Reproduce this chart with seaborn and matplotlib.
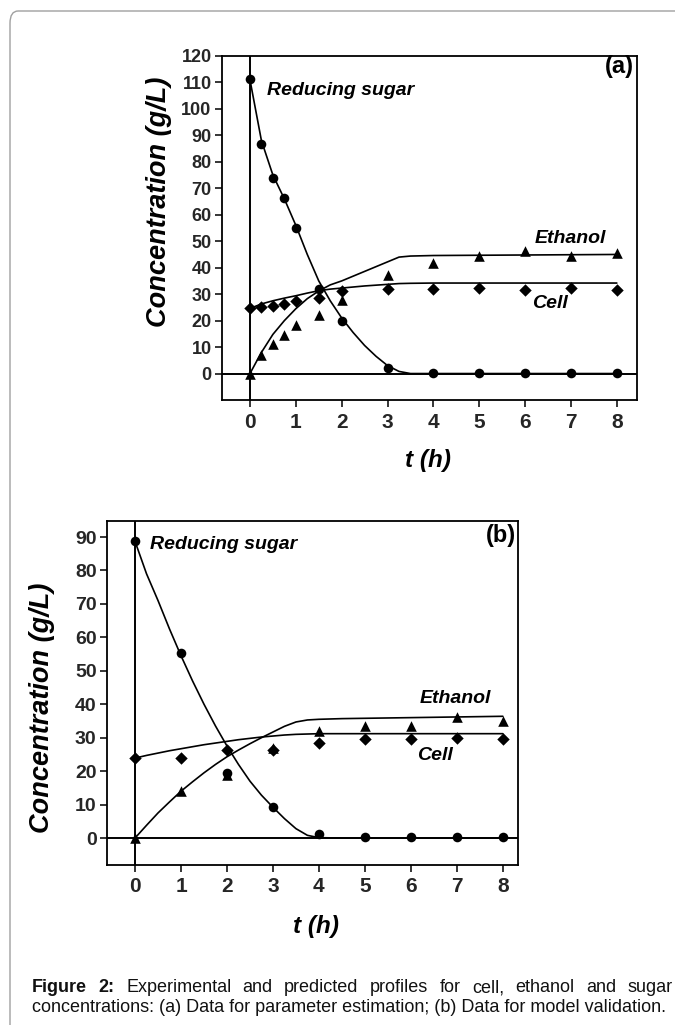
import matplotlib
matplotlib.use("Agg")
import matplotlib.pyplot as plt
from matplotlib.patches import FancyBboxPatch
import seaborn as sns

# ---------------- data (a) ----------------
t_a = [0, 0.25, 0.5, 0.75, 1.0, 1.5, 2.0, 3, 4, 5, 6, 7, 8]
sugar_a = [111.2, 86.6, 73.9, 66.5, 55.1, 31.9, 19.7, 2.0, 0.3, 0.1, 0.1, 0.1, 0.1]
ethanol_a = [0, 6.9, 11.2, 14.5, 18.2, 22.2, 27.9, 37.2, 41.7, 44.3, 46.3, 44.4, 45.6]
cell_a = [24.6, 25.0, 25.5, 26.4, 27.6, 28.4, 31.1, 31.8, 31.8, 32.4, 31.7, 32.2, 31.4]

tm_a = [0, 0.25, 0.5, 0.75, 1, 1.25, 1.5, 1.75, 2, 2.25, 2.5, 2.75, 3, 3.25, 3.5, 4, 5, 6, 7, 8]
sugar_model_a = [111, 88, 75, 66, 56, 45, 35, 27.5, 21, 15.5, 10.6, 6.5, 3, 0.8, 0, 0, 0, 0, 0, 0]
ethanol_model_a = [0, 8, 14.8, 20, 24.5, 28.3, 31.2, 33.5, 35, 36.8, 38.6, 40.4, 42.2, 44, 44.4, 44.6, 44.7, 44.8, 44.9, 45]
cell_model_a = [24.6, 26.3, 27.5, 28.5, 29.4, 30.4, 31.3, 31.9, 32.3, 32.7, 33.1, 33.4, 33.7, 34, 34.1, 34.2, 34.2, 34.2, 34.2, 34.2]

# ---------------- data (b) ----------------
t_b = [0, 1, 2, 3, 4, 5, 6, 7, 8]
sugar_b = [88.7, 55.4, 19.4, 9.2, 1.1, 0.2, 0.2, 0.2, 0.2]
ethanol_b = [0, 14, 18.7, 27.0, 31.9, 33.5, 33.5, 36.2, 34.9]
cell_b = [23.9, 23.9, 26.2, 26.2, 28.5, 29.6, 29.6, 29.8, 29.6]

tm_b = [0, 0.25, 0.5, 0.75, 1, 1.25, 1.5, 1.75, 2, 2.25, 2.5, 2.75, 3, 3.25, 3.5, 3.75, 4, 4.5, 5, 6, 7, 8]
sugar_model_b = [88.7, 79, 71, 62.5, 54.5, 47, 40, 33.5, 27.5, 22, 17, 12.8, 9.2, 5.8, 2.8, 0.8, 0.1, 0, 0, 0, 0, 0]
ethanol_model_b = [0, 3.8, 7.5, 10.8, 14, 16.8, 19.5, 22, 24.3, 26.3, 28.2, 30, 31.7, 33.4, 34.7, 35.3, 35.5, 35.7, 35.8, 36, 36.2, 36.4]
cell_model_b = [23.9, 24.7, 25.4, 26.1, 26.7, 27.3, 27.9, 28.4, 28.9, 29.4, 29.8, 30.2, 30.5, 30.8, 31.0, 31.1, 31.2, 31.2, 31.2, 31.2, 31.2, 31.2]

x_ticks = [0, 1, 2, 3, 4, 5, 6, 7, 8]
y_ticks_a = [0, 10, 20, 30, 40, 50, 60, 70, 80, 90, 100, 110, 120]
y_ticks_b = [0, 10, 20, 30, 40, 50, 60, 70, 80, 90]

caption_line1 = ['Figure', '2:', 'Experimental', 'and', 'predicted', 'profiles', 'for', 'cell,',
                 'ethanol', 'and', 'sugar']
caption_line2 = 'concentrations: (a) Data for parameter estimation; (b) Data for model validation.'

sns.set_theme(style="white")
plt.rcParams['font.family'] = ['Liberation Sans', 'DejaVu Sans']
plt.rcParams['xtick.direction'] = 'out'
plt.rcParams['ytick.direction'] = 'out'

W, H = 675, 1025
fig = plt.figure(figsize=(W / 100, H / 100), dpi=100)
fig.patch.set_facecolor('white')

# outer rounded frame (continues past right and bottom edges)
frame = FancyBboxPatch((10 / W, -0.1), 1.2, 1.1 - 11 / H, boxstyle="round,pad=0,rounding_size=0.012",
                       transform=fig.transFigure, fill=False, edgecolor='#a0a0a0', linewidth=1.0,
                       clip_on=False)
fig.patches.append(frame)


def px_axes(left, top, right, bottom):
    return fig.add_axes([left / W, 1 - bottom / H, (right - left) / W, (bottom - top) / H])


def draw_panel(ax, t, sug, eth, cel, tm, sm, em, cm, xlim, ylim, yticks, ytick_fs):
    kw = dict(color='black', linewidth=1.2, estimator=None, ax=ax, legend=False)
    sns.lineplot(x=tm, y=sm, **kw)
    sns.lineplot(x=tm, y=em, **kw)
    sns.lineplot(x=tm, y=cm, **kw)
    ax.axhline(0, color='black', linewidth=1.4, zorder=1)
    ax.axvline(0, color='black', linewidth=1.4, zorder=1)
    skw = dict(color='black', edgecolor='black', linewidth=0, ax=ax, legend=False, zorder=5)
    sns.scatterplot(x=t, y=eth, marker='^', s=58, **skw)
    sns.scatterplot(x=t, y=cel, marker='D', s=40, **skw)
    sns.scatterplot(x=t, y=sug, marker='o', s=48, **skw)
    ax.set_xlim(*xlim)
    ax.set_ylim(*ylim)
    ax.set_xticks(x_ticks)
    ax.set_yticks(yticks)
    ax.set_xticklabels([str(v) for v in x_ticks], fontsize=15, fontweight='bold')
    ax.set_yticklabels([str(v) for v in yticks], fontsize=ytick_fs, fontweight='bold')
    ax.tick_params(axis='both', which='both', length=5, width=1.1, color='black',
                   bottom=True, left=True, pad=2.5)
    ax.tick_params(axis='x', pad=4)
    for s in ax.spines.values():
        s.set_color('black')
        s.set_linewidth(1.3)
    ax.set_xlabel('')
    ax.set_ylabel('')


lab = dict(fontsize=14, fontweight='bold', fontstyle='italic', color='black')
tag = dict(fontsize=17, fontweight='bold', color='black')

# panel (a)
ax1 = px_axes(222, 56, 637, 400)
draw_panel(ax1, t_a, sugar_a, ethanol_a, cell_a, tm_a, sugar_model_a, ethanol_model_a,
           cell_model_a, (-0.61, 8.44), (-10, 120), y_ticks_a, 13)
ax1.text(0.37, 107, 'Reducing sugar', ha='left', va='center', **lab)
ax1.text(6.2, 51, 'Ethanol', ha='left', va='center', **lab)
ax1.text(6.15, 26.5, 'Cell', ha='left', va='center', **lab)
ax1.text(8.38, 116.2, '(a)', ha='right', va='center', **tag)

# panel (b)
ax2 = px_axes(107, 521, 518, 865)
draw_panel(ax2, t_b, sugar_b, ethanol_b, cell_b, tm_b, sugar_model_b, ethanol_model_b,
           cell_model_b, (-0.61, 8.33), (-8.07, 94.8), y_ticks_b, 14)
ax2.text(0.33, 87.7, 'Reducing sugar', ha='left', va='center', **lab)
ax2.text(6.2, 41.6, 'Ethanol', ha='left', va='center', **lab)
ax2.text(6.13, 24.8, 'Cell', ha='left', va='center', **lab)
ax2.text(8.28, 90.4, '(b)', ha='right', va='center', **tag)

# axis labels
yl = dict(fontsize=19.5, fontweight='bold', fontstyle='italic', color='black')
xl = dict(fontsize=17.5, fontweight='bold', fontstyle='italic', color='black')
fig.text(159 / W, 1 - 202 / H, 'Concentration (g/L)', rotation=90, ha='center', va='center', **yl)
fig.text(428 / W, 1 - 461 / H, 't (h)', ha='center', va='center', **xl)
fig.text(42 / W, 1 - 708 / H, 'Concentration (g/L)', rotation=90, ha='center', va='center', **yl)
fig.text(316 / W, 1 - 927 / H, 't (h)', ha='center', va='center', **xl)

# caption: line 1 justified between x=32 and x=673
cap_fs = 13
x_start, x_end = 32, 673
txts = []
for i, w in enumerate(caption_line1):
    fw = 'bold' if i < 2 else 'normal'
    txts.append(fig.text(0, 1 - 988 / H, w, ha='left', va='center', fontsize=cap_fs,
                         fontweight=fw, color='#111111'))
fig.canvas.draw()
renderer = fig.canvas.get_renderer()
widths = [tx.get_window_extent(renderer).width for tx in txts]
gap = (x_end - x_start - sum(widths)) / (len(widths) - 1)
xpos = x_start
for tx, wdt in zip(txts, widths):
    tx.set_x(xpos / W)
    xpos += wdt + gap
fig.text(x_start / W, 1 - 1007 / H, caption_line2, ha='left', va='center', fontsize=cap_fs,
         color='#111111')

fig.savefig('out.png', dpi=100, facecolor='white')
